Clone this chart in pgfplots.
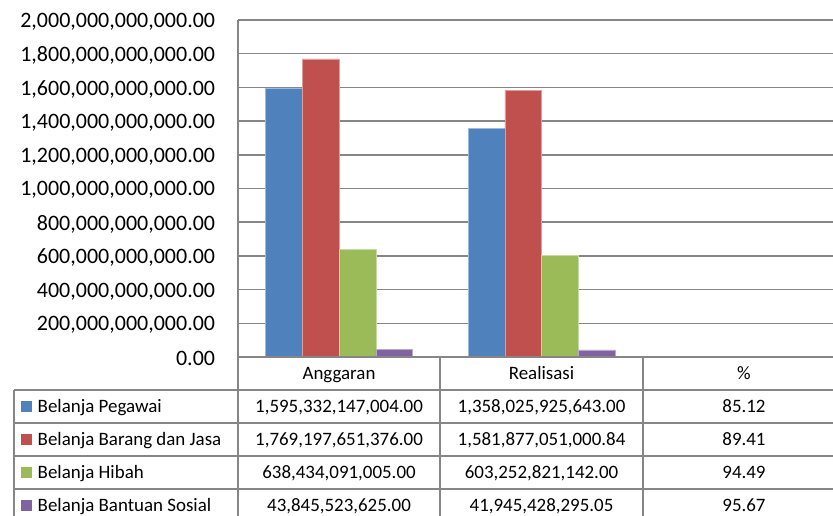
\documentclass[border=0pt]{standalone}
\usepackage{fontspec}
\setmainfont{Carlito}
\usepackage{pgfplots}
\pgfplotsset{compat=1.18}
\definecolor{cBlue}{RGB}{79,129,189}
\definecolor{cRed}{RGB}{192,80,77}
\definecolor{cGreen}{RGB}{155,187,89}
\definecolor{cPurple}{RGB}{128,100,162}
\definecolor{gridc}{RGB}{134,134,134}
\begin{document}
\begin{tikzpicture}
\begin{axis}[
  at={(178.5pt,-267.75pt)}, anchor=south west,
  scale only axis, width=455.6pt, height=252.75pt,
  xmin=-0.5, xmax=2.5, ymin=0, ymax=2000000000000,
  ytick={0,200000000000,400000000000,600000000000,800000000000,1000000000000,1200000000000,1400000000000,1600000000000,1800000000000,2000000000000},
  yticklabels={{0.00},{200,000,000,000.00},{400,000,000,000.00},{600,000,000,000.00},{800,000,000,000.00},{1,000,000,000,000.00},{1,200,000,000,000.00},{1,400,000,000,000.00},{1,600,000,000,000.00},{1,800,000,000,000.00},{2,000,000,000,000.00}},
  scaled y ticks=false,
  xtick=\empty,
  ymajorgrids, grid style={gridc, line width=1.1pt},
  axis lines*=left,
  axis line style={gridc, line width=1.1pt, -},
  major tick length=0pt,
  tick label style={font=\fontsize{16.5}{20}\selectfont},
  yticklabel style={xshift=-17pt, yshift=-1.3pt, inner sep=0pt},
  ybar=0pt, bar width=0.1815,
  clip=false,
]
\addplot[fill=cBlue, draw=cBlue!55!white, line width=0.5pt] coordinates {(0,1595332147004.00) (1,1358025925643.00) (2,85.12)};
\addplot[fill=cRed, draw=cRed!55!white, line width=0.5pt] coordinates {(0,1769197651376.00) (1,1581877051000.84) (2,89.41)};
\addplot[fill=cGreen, draw=cGreen!55!white, line width=0.5pt] coordinates {(0,638434091005.00) (1,603252821142.00) (2,94.49)};
\addplot[fill=cPurple, draw=cPurple!55!white, line width=0.5pt] coordinates {(0,43845523625.00) (1,41945428295.05) (2,95.67)};
\end{axis}
\begin{scope}[x=0.75pt, y=-0.75pt, line width=1.1pt]
  \draw[gridc] (238,357) -- (850,357);
  \foreach \yy in {390,423,456,489} {\draw[gridc] (14,\yy) -- (850,\yy);}
  \draw[gridc] (14,390) -- (14,520);
  \foreach \xx in {238,440,643} {\draw[gridc] (\xx,357) -- (\xx,520);}
  \begin{scope}[every node/.style={anchor=base, inner sep=0pt, font=\fontsize{14.2}{17}\selectfont}]
    \node at (339,379.5) {Anggaran};
    \node at (541.5,379.5) {Realisasi};
    \node at (744,379.5) {\%};
    \node at (339,412.5) {1,595,332,147,004.00};
    \node at (541.5,412.5) {1,358,025,925,643.00};
    \node at (744,412.5) {85.12};
    \node at (339,445.5) {1,769,197,651,376.00};
    \node at (541.5,445.5) {1,581,877,051,000.84};
    \node at (744,445.5) {89.41};
    \node at (339,478.5) {638,434,091,005.00};
    \node at (541.5,478.5) {603,252,821,142.00};
    \node at (744,478.5) {94.49};
    \node at (339,511.5) {43,845,523,625.00};
    \node at (541.5,511.5) {41,945,428,295.05};
    \node at (744,511.5) {95.67};
    \node[anchor=base west] at (37,412.5) {Belanja Pegawai};
    \node[anchor=base west] at (37,445.5) {Belanja Barang dan Jasa};
    \node[anchor=base west] at (37,478.5) {Belanja Hibah};
    \node[anchor=base west] at (37,511.5) {Belanja Bantuan Sosial};
  \end{scope}
  \fill[cBlue] (21,401) rectangle (32,412);
  \fill[cRed] (21,434) rectangle (32,445);
  \fill[cGreen] (21,467) rectangle (32,478);
  \fill[cPurple] (21,500) rectangle (32,511);
\end{scope}
\pgfresetboundingbox
\useasboundingbox (0,0) rectangle (624.75pt,-387pt);
\end{tikzpicture}
\end{document}
